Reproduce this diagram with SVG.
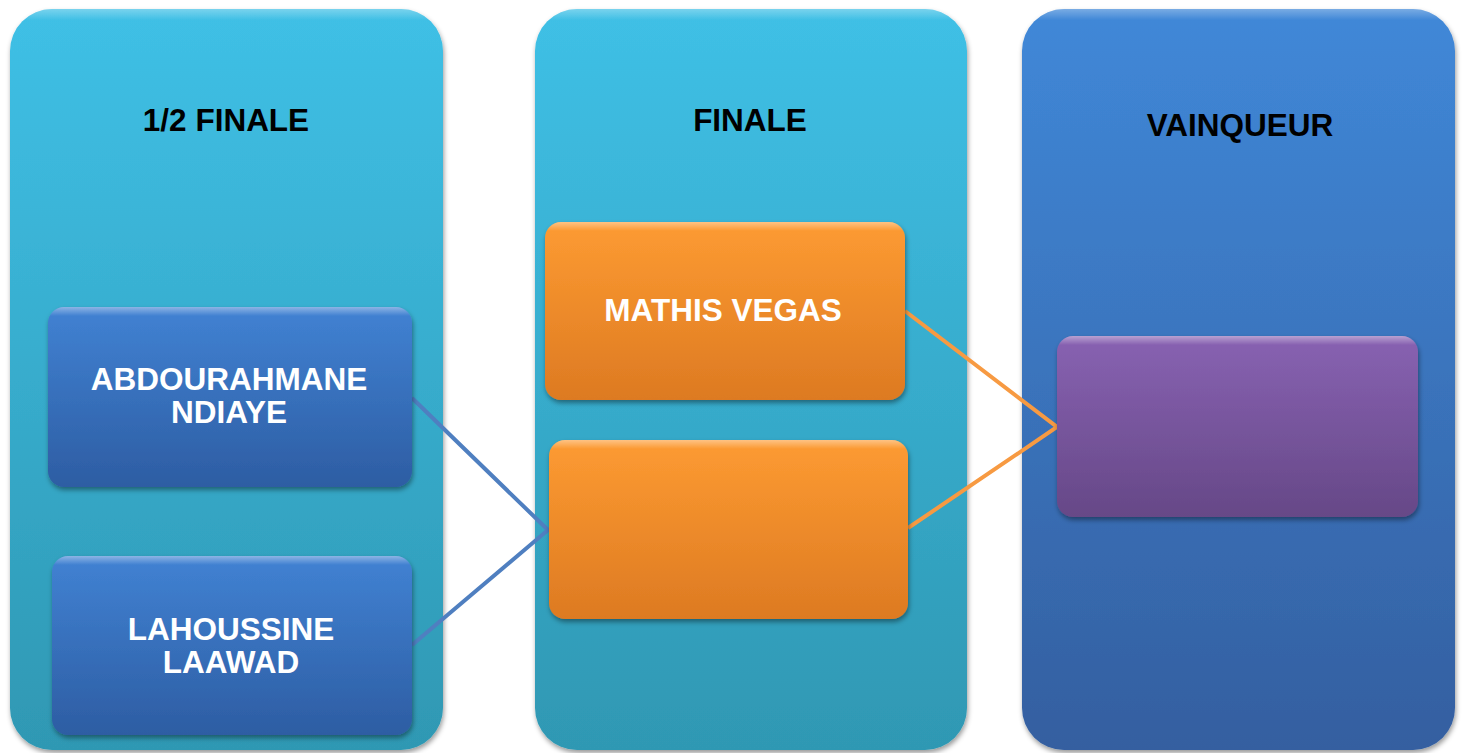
<svg xmlns="http://www.w3.org/2000/svg" width="1463" height="753" viewBox="0 0 1463 753">
<defs>
<linearGradient id="gCol" x1="0" y1="0" x2="0" y2="1"><stop offset="0" stop-color="#3fc0e6"/><stop offset="1" stop-color="#2f98b3"/></linearGradient>
<linearGradient id="gCol3" x1="0" y1="0" x2="0" y2="1"><stop offset="0" stop-color="#4088d8"/><stop offset="1" stop-color="#345fa0"/></linearGradient>
<linearGradient id="gBlue" x1="0" y1="0" x2="0" y2="1"><stop offset="0" stop-color="#4182d3"/><stop offset="1" stop-color="#2d5da3"/></linearGradient>
<linearGradient id="gOr" x1="0" y1="0" x2="0" y2="1"><stop offset="0" stop-color="#fd9b32"/><stop offset="1" stop-color="#dd7a22"/></linearGradient>
<linearGradient id="gPu" x1="0" y1="0" x2="0" y2="1"><stop offset="0" stop-color="#8862b2"/><stop offset="1" stop-color="#664887"/></linearGradient>
<linearGradient id="gHi" x1="0" y1="0" x2="0" y2="1"><stop offset="0" stop-color="#ffffff" stop-opacity="0.4"/><stop offset="0.05" stop-color="#ffffff" stop-opacity="0"/></linearGradient>
<linearGradient id="gHiC" x1="0" y1="0" x2="0" y2="1"><stop offset="0" stop-color="#ffffff" stop-opacity="0.3"/><stop offset="0.015" stop-color="#ffffff" stop-opacity="0"/></linearGradient>
<filter id="sh" x="-10%" y="-10%" width="120%" height="120%"><feDropShadow dx="1" dy="3" stdDeviation="2.5" flood-color="#000" flood-opacity="0.4"/></filter>
</defs>
<style>
.t{font-family:"Liberation Sans",Arial,sans-serif;font-weight:bold;font-size:31.5px;text-anchor:middle}
.h{fill:#000}
.n{fill:#fff}
.c{fill:none;stroke-width:4}
</style>
<g id="col1"><rect x="10" y="9" width="433" height="741" rx="42" fill="url(#gCol)" filter="url(#sh)"/><rect x="10" y="9" width="433" height="741" rx="42" fill="url(#gHiC)"/><text class="t h" x="226" y="131">1/2 FINALE</text></g>
<g id="col2"><rect x="535" y="9" width="432" height="741" rx="42" fill="url(#gCol)" filter="url(#sh)"/><rect x="535" y="9" width="432" height="741" rx="42" fill="url(#gHiC)"/><text class="t h" x="750" y="131">FINALE</text></g>
<g id="col3"><rect x="1022" y="9" width="433" height="741" rx="42" fill="url(#gCol3)" filter="url(#sh)"/><rect x="1022" y="9" width="433" height="741" rx="42" fill="url(#gHiC)"/><text class="t h" x="1240" y="136">VAINQUEUR</text></g>
<g id="connectors">
<polyline class="c" points="412,398 548,530 412,645" stroke="#4f7fc0"/>
<polyline class="c" points="905,311 1057,427 908,528" stroke="#f79a42"/>
</g>
<g id="n1"><rect x="48" y="307" width="364" height="180" rx="16" fill="url(#gBlue)" filter="url(#sh)"/><rect x="48" y="307" width="364" height="180" rx="16" fill="url(#gHi)"/><text class="t n" x="229" y="390">ABDOURAHMANE</text><text class="t n" x="229" y="423">NDIAYE</text></g>
<g id="n2"><rect x="52" y="556" width="360" height="179" rx="16" fill="url(#gBlue)" filter="url(#sh)"/><rect x="52" y="556" width="360" height="179" rx="16" fill="url(#gHi)"/><text class="t n" x="231" y="640">LAHOUSSINE</text><text class="t n" x="231" y="673">LAAWAD</text></g>
<g id="n3"><rect x="545" y="222" width="360" height="178" rx="16" fill="url(#gOr)" filter="url(#sh)"/><rect x="545" y="222" width="360" height="178" rx="16" fill="url(#gHi)"/><text class="t n" x="723" y="321">MATHIS VEGAS</text></g>
<g id="n4"><rect x="549" y="440" width="359" height="179" rx="16" fill="url(#gOr)" filter="url(#sh)"/><rect x="549" y="440" width="359" height="179" rx="16" fill="url(#gHi)"/></g>
<g id="n5"><rect x="1057" y="336" width="361" height="181" rx="16" fill="url(#gPu)" filter="url(#sh)"/><rect x="1057" y="336" width="361" height="181" rx="16" fill="url(#gHi)"/></g>
</svg>
